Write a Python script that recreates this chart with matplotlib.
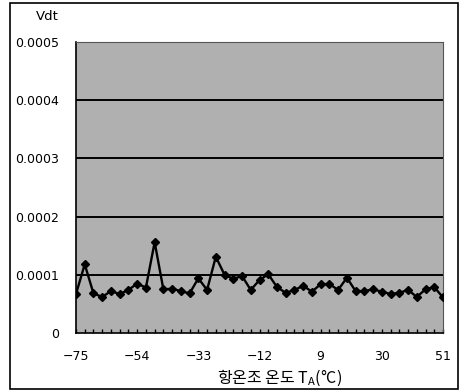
import matplotlib
matplotlib.use("Agg")
import matplotlib.pyplot as plt
import matplotlib.patches as mpatches

plt.rcParams['font.family'] = ['DejaVu Sans', 'Noto Sans CJK KR']

# temperature categories (every 3 degrees) and measured Vdt
temps = list(range(-75, 52, 3))
vdt = [0.67, 1.18, 0.68, 0.62, 0.72, 0.67, 0.74, 0.85, 0.78, 1.56,
       0.75, 0.76, 0.72, 0.68, 0.94, 0.74, 1.31, 1.00, 0.93, 0.98,
       0.74, 0.91, 1.01, 0.79, 0.69, 0.74, 0.81, 0.71, 0.84, 0.84,
       0.74, 0.95, 0.72, 0.72, 0.75, 0.71, 0.67, 0.69, 0.74, 0.62,
       0.75, 0.79, 0.61]
vdt = [v * 1e-4 for v in vdt]
label_temps = [-75, -54, -33, -12, 9, 30, 51]
y_ticks = [0, 0.0001, 0.0002, 0.0003, 0.0004, 0.0005]
y_labels = ["0", "0.0001", "0.0002", "0.0003", "0.0004", "0.0005"]

W, H = 461, 391
fig = plt.figure(figsize=(W / 100, H / 100), dpi=100)
ax = fig.add_axes([76 / W, 1 - 333 / H, (443 - 76) / W, (333 - 42) / H])
ax.set_facecolor("#b0b0b0")

idx = list(range(len(temps)))
for yv in y_ticks[1:5]:
    ax.axhline(yv, color="black", linewidth=1.4, zorder=1)
ax.plot(idx, vdt, color="black", linewidth=1.7, marker="D", markersize=3.6, zorder=3)

ax.set_xlim(0, len(temps) - 1)
ax.set_ylim(0, 0.0005)
ax.set_xticks(idx)
ax.set_xticklabels([str(t).replace("-", "\u2212") if t in label_temps else "" for t in temps],
                   fontsize=9)
ax.tick_params(axis="x", direction="in", length=3, width=1, pad=12)
ax.set_yticks(y_ticks)
ax.set_yticklabels(y_labels, fontsize=9)
ax.tick_params(axis="y", length=0, pad=12)

for side in ["left", "bottom"]:
    ax.spines[side].set_color("black")
    ax.spines[side].set_linewidth(1.2)
for side in ["top", "right"]:
    ax.spines[side].set_color("#555555")
    ax.spines[side].set_linewidth(0.8)

fig.text(47 / W, 1 - 17 / H, "Vdt", fontsize=9.5, ha="center", va="center")
fig.text(280 / W, 1 - 378 / H, "항온조 온도 T$\\mathregular{_A}$(°C)", fontsize=11.5,
         ha="center", va="center", family=["Noto Sans CJK KR", "DejaVu Sans"])

# outer frame around the whole chart
fig.add_artist(mpatches.Rectangle((10 / W, 1 - 389 / H), (458 - 10) / W, (389 - 3) / H,
                                  transform=fig.transFigure, fill=False,
                                  edgecolor="black", linewidth=1.2))

fig.savefig("out.png", dpi=100)
